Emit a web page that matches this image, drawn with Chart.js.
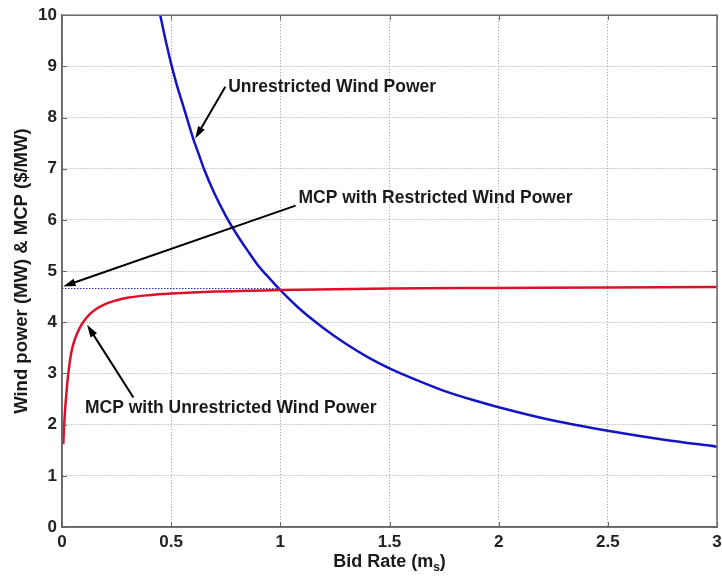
<!DOCTYPE html>
<html lang="en">
<head>
    <meta charset="UTF-8">
    <title>Wind power and MCP vs bid rate</title>
    <script src="https://cdn.jsdelivr.net/npm/chart.js@4.4.1/dist/chart.umd.min.js"></script>
    <style>
        html, body {
            margin: 0;
            padding: 0;
            background: #ffffff;
        }
        .chart-box {
            position: relative;
            width: 722px;
            height: 579px;
        }
    </style>
</head>
<body>
    <div class="chart-box">
        <canvas id="mcpChart"></canvas>
    </div>

    <script>
        // Values
        const blueX = [0.45, 0.475, 0.5, 0.525, 0.55, 0.575, 0.6, 0.625, 0.65, 0.7, 0.75, 0.8, 0.85, 0.9, 0.95, 1.0,
                       1.1, 1.2, 1.3, 1.4, 1.5, 1.625, 1.75, 1.875, 2.0, 2.25, 2.5, 2.75, 3.0];
        const blueY = [10.0, 9.5, 9.05, 8.65, 8.3, 7.95, 7.6, 7.3, 7.0, 6.5, 6.08, 5.72, 5.4, 5.1, 4.86, 4.63,
                       4.22, 3.88, 3.58, 3.32, 3.1, 2.87, 2.66, 2.49, 2.34, 2.08, 1.88, 1.71, 1.57];

        const redX = [0.006, 0.01, 0.014, 0.02, 0.029, 0.044, 0.06, 0.08, 0.1, 0.125, 0.15, 0.2, 0.25, 0.3, 0.4, 0.5, 0.7, 1.0, 1.5, 2.0, 2.5, 3.0];
        const redY = [1.62, 2.0, 2.28, 2.6, 3.0, 3.44, 3.68, 3.88, 4.02, 4.15, 4.24, 4.36, 4.43, 4.48, 4.53, 4.56, 4.6, 4.63, 4.66, 4.67, 4.68, 4.69];

        // restricted MCP level (dotted line)
        const restrictedX = [0, 1.0];
        const restrictedY = [4.66, 4.66];

        const xTicks = [0, 0.5, 1, 1.5, 2, 2.5, 3];
        const yTicks = [0, 1, 2, 3, 4, 5, 6, 7, 8, 9, 10];

        const labelTexts = ['Unrestricted Wind Power', 'MCP with Restricted Wind Power', 'MCP with Unrestricted Wind Power'];
        const labelAt = [[0.761, 8.6], [1.083, 6.42], [0.105, 2.32]];
        const arrowFrom = [[0.748, 8.6], [1.07, 6.28], [0.327, 2.53]];
        const arrowTo = [[0.61, 7.59], [0.005, 4.7], [0.115, 3.95]];

        const toPoints = (xs, ys) => xs.map((x, i) => ({ x: x, y: ys[i] }));

        const FONT = "'Liberation Sans', Arial, sans-serif";

        // arrows, labels, inward tick marks, x title with subscript
        const extrasPlugin = {
            id: 'extras',
            afterDatasetsDraw(chart) {
                const c = chart.ctx;
                const xs = chart.scales.x;
                const ys = chart.scales.y;
                const a = chart.chartArea;

                // box + inward ticks
                c.save();
                c.strokeStyle = '#666';
                c.lineWidth = 1.5;
                c.strokeRect(a.left, a.top, a.right - a.left, a.bottom - a.top);
                c.lineWidth = 1;
                c.beginPath();
                xTicks.forEach(v => {
                    const px = Math.round(xs.getPixelForValue(v)) + 0.5;
                    c.moveTo(px, a.bottom); c.lineTo(px, a.bottom - 5);
                    c.moveTo(px, a.top); c.lineTo(px, a.top + 5);
                });
                yTicks.forEach(v => {
                    const py = Math.round(ys.getPixelForValue(v)) + 0.5;
                    c.moveTo(a.left, py); c.lineTo(a.left + 5, py);
                    c.moveTo(a.right, py); c.lineTo(a.right - 5, py);
                });
                c.stroke();
                c.restore();

                // arrows
                c.save();
                c.strokeStyle = '#000';
                c.fillStyle = '#000';
                c.lineWidth = 2;
                arrowFrom.forEach((from, i) => {
                    const x1 = xs.getPixelForValue(from[0]);
                    const y1 = ys.getPixelForValue(from[1]);
                    const x2 = xs.getPixelForValue(arrowTo[i][0]);
                    const y2 = ys.getPixelForValue(arrowTo[i][1]);
                    const ang = Math.atan2(y2 - y1, x2 - x1);
                    const head = 13;
                    c.beginPath();
                    c.moveTo(x1, y1);
                    c.lineTo(x2 - Math.cos(ang) * head * 0.8, y2 - Math.sin(ang) * head * 0.8);
                    c.stroke();
                    c.beginPath();
                    c.moveTo(x2, y2);
                    c.lineTo(x2 - head * Math.cos(ang - 0.3), y2 - head * Math.sin(ang - 0.3));
                    c.lineTo(x2 - head * Math.cos(ang + 0.3), y2 - head * Math.sin(ang + 0.3));
                    c.closePath();
                    c.fill();
                });

                // labels
                c.font = 'bold 17.5px ' + FONT;
                c.fillStyle = '#1a1a1a';
                c.textBaseline = 'middle';
                c.textAlign = 'left';
                labelTexts.forEach((t, i) => {
                    c.fillText(t, xs.getPixelForValue(labelAt[i][0]), ys.getPixelForValue(labelAt[i][1]));
                });

                // x axis title: Bid Rate (m_s)
                const main = 'Bid Rate (m';
                c.font = 'bold 18px ' + FONT;
                const w1 = c.measureText(main).width;
                c.font = 'bold 12px ' + FONT;
                const w2 = c.measureText('s').width;
                c.font = 'bold 18px ' + FONT;
                const w3 = c.measureText(')').width;
                const total = w1 + w2 + w3;
                let tx = (a.left + a.right) / 2 - total / 2;
                const ty = 567;
                c.textBaseline = 'alphabetic';
                c.fillText(main, tx, ty);
                tx += w1;
                c.font = 'bold 12px ' + FONT;
                c.fillText('s', tx, ty + 4);
                tx += w2;
                c.font = 'bold 18px ' + FONT;
                c.fillText(')', tx, ty);
                c.restore();
            }
        };

        const ctx = document.getElementById('mcpChart').getContext('2d');

        new Chart(ctx, {
            type: 'scatter',
            data: {
                datasets: [
                    {
                        label: 'Restricted MCP',
                        data: toPoints(restrictedX, restrictedY),
                        showLine: true,
                        borderColor: '#2a2ad0',
                        borderWidth: 1.2,
                        borderDash: [1.5, 1.5],
                        pointRadius: 0
                    },
                    {
                        label: 'MCP with Unrestricted Wind Power',
                        data: toPoints(redX, redY),
                        showLine: true,
                        borderColor: '#dc1028',
                        borderWidth: 2.5,
                        pointRadius: 0,
                        cubicInterpolationMode: 'monotone'
                    },
                    {
                        label: 'Unrestricted Wind Power',
                        data: toPoints(blueX, blueY),
                        showLine: true,
                        borderColor: '#1414c4',
                        borderWidth: 2.5,
                        pointRadius: 0,
                        cubicInterpolationMode: 'monotone'
                    }
                ]
            },
            options: {
                responsive: true,
                maintainAspectRatio: false,
                animation: false,
                layout: {
                    padding: { top: 13, right: 5, left: 0, bottom: 0 }
                },
                scales: {
                    x: {
                        type: 'linear',
                        min: 0,
                        max: 3,
                        afterFit: scale => {
                            scale.height = 52;
                            scale.paddingRight = 0;
                            scale.paddingLeft = 0;
                        },
                        afterBuildTicks: scale => { scale.ticks = xTicks.map(v => ({ value: v })); },
                        ticks: {
                            color: '#222',
                            padding: 5,
                            maxRotation: 0,
                            callback: v => String(v),
                            font: { family: FONT, size: 17, weight: 'bold' }
                        },
                        grid: {
                            color: '#9a9a9a',
                            lineWidth: 1,
                            tickLength: 0
                        },
                        border: { color: '#666', width: 1.5, dash: [1, 2] },
                        title: { display: false }
                    },
                    y: {
                        min: 0,
                        max: 10,
                        afterFit: scale => { scale.width = 62; },
                        afterBuildTicks: scale => { scale.ticks = yTicks.map(v => ({ value: v })); },
                        ticks: {
                            color: '#222',
                            padding: 5,
                            callback: v => String(v),
                            font: { family: FONT, size: 17, weight: 'bold' }
                        },
                        grid: {
                            color: '#9a9a9a',
                            lineWidth: 1,
                            tickLength: 0
                        },
                        border: { color: '#666', width: 1.5, dash: [1, 2] },
                        title: {
                            display: true,
                            text: 'Wind power (MW) & MCP ($/MW)',
                            color: '#1a1a1a',
                            padding: { top: 11, bottom: 0 },
                            font: { family: FONT, size: 18.5, weight: 'bold' }
                        }
                    }
                },
                plugins: {
                    legend: { display: false },
                    tooltip: { enabled: false }
                }
            },
            plugins: [extrasPlugin]
        });
    </script>
</body>
</html>
